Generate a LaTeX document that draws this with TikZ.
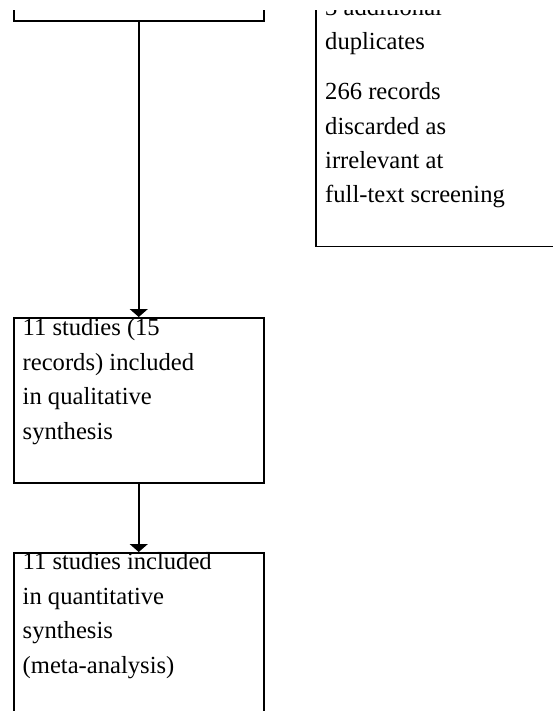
\documentclass[tikz,border=0pt]{standalone}
\usepackage{fontspec}
\setmainfont{Liberation Serif}
\usepackage{tikz}
\usetikzlibrary{positioning, arrows.meta, shapes}
\tikzstyle{flowbox} = [rectangle, draw=black, line width=1.5pt, minimum width=250pt, inner sep=0pt]
\tikzstyle{boxtext} = [align=left, inner sep=0pt, font=\fontsize{24.6}{34.4}\selectfont]
\tikzstyle{arrow} = [line width=1.5pt, -{Triangle[width=18pt,length=8pt]}]

\begin{document}
\begin{tikzpicture}[x=1pt, y=-1pt]
            \useasboundingbox (0,0) rectangle (553,711);
            \clip (0,11) rectangle (553,711);
            \node (screened) [flowbox, minimum height=120pt, anchor=south west] at (13,22) {};
            \node (excluded) [flowbox, minimum width=280pt, minimum height=300pt, anchor=south west] at (315,247) {};
            \node (qualitative) [flowbox, minimum height=165pt, anchor=north west] at (13,317) {};
            \node (quantitative) [flowbox, minimum height=200pt, anchor=north west] at (13,552) {};

            % base anchor sits on the last line
            \node (excludedtext) [boxtext, anchor=base west] at (325,203) {3 additional\\duplicates\\[15.5pt]266 records\\discarded as\\irrelevant at\\full-text screening};
            \node (qualtext) [boxtext, anchor=base west] at (22.5,439) {11 studies (15\\records) included\\in qualitative\\synthesis};
            \node (quanttext) [boxtext, anchor=base west] at (22.5,673) {11 studies included\\in quantitative\\synthesis\\(meta-analysis)};

            \draw [arrow] (screened) -- (qualitative);
            \draw [arrow] (qualitative) -- (quantitative);
\end{tikzpicture}
\end{document}
